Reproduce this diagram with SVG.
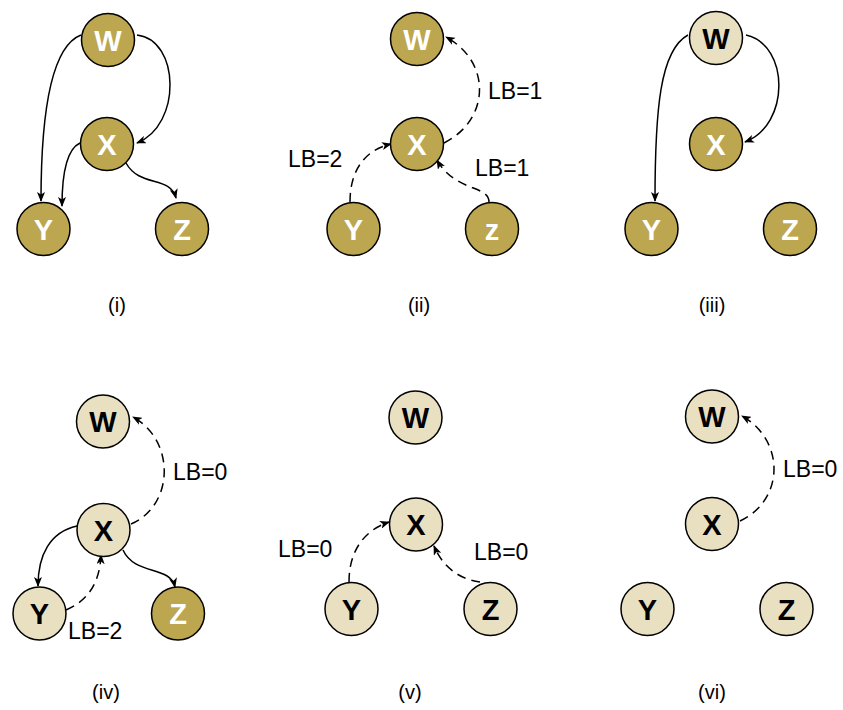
<svg xmlns="http://www.w3.org/2000/svg" width="843" height="710" viewBox="0 0 843 710">
<style>
.dk{fill:#BCA64F;stroke:#000;stroke-width:1.5}
.lt{fill:#E9E0C2;stroke:#000;stroke-width:1.5}
.tw{font-family:"Liberation Sans",Arial,sans-serif;font-weight:bold;font-size:29px;fill:#fff;text-anchor:middle}
.tb{font-family:"Liberation Sans",Arial,sans-serif;font-weight:bold;font-size:29px;fill:#000;text-anchor:middle}
.e{fill:none;stroke:#000;stroke-width:1.5;marker-end:url(#ah)}
.d{stroke-dasharray:9 6}
.lb{font-family:"Liberation Sans",Arial,sans-serif;font-size:23px;fill:#000}
.cap{font-family:"Liberation Sans",Arial,sans-serif;font-size:20px;fill:#000;text-anchor:middle}
</style>
<defs>
<marker id="ah" viewBox="0 0 10 8" refX="9" refY="4" markerWidth="10" markerHeight="8" markerUnits="userSpaceOnUse" orient="auto">
<path d="M0,0 L10,4 L0,8 L2.5,4 z" fill="#000" stroke="none"/>
</marker>
</defs>
<rect width="843" height="710" fill="#fff"/>

<g id="connectors">
<!-- (i) -->
<path class="e" d="M81 35 C55 45 41 100 41 201"/>
<path class="e" d="M137 35 C180 40 182 125 137 143"/>
<path class="e" d="M80 143 C65 150 62 180 62 206"/>
<path class="e" d="M126 163 C140 188 170 175 176 198"/>
<!-- (ii) -->
<path class="e d" d="M444 143 C490 120 492 62 446 37"/>
<path class="e d" d="M350 202 C350 170 365 150 391 144"/>
<path class="e d" d="M489 202 C489 185 455 192 437 160"/>
<!-- (iii) -->
<path class="e" d="M688 35 C660 50 655 110 655 201"/>
<path class="e" d="M746 35 C790 45 790 125 745 142"/>
<!-- (iv) -->
<path class="e d" d="M131 524 C175 505 175 440 133 417"/>
<path class="e" d="M77 526 C50 532 38 555 38 586"/>
<path class="e d" d="M66 610 C90 600 100 580 101 555"/>
<path class="e" d="M123 550 C135 576 170 565 175 587"/>
<!-- (v) -->
<path class="e d" d="M349 582 C349 550 365 530 389 522"/>
<path class="e d" d="M480 582 C465 580 445 572 434 546"/>
<!-- (vi) -->
<path class="e d" d="M740 521 C785 500 785 440 742 416"/>
</g>

<g id="labels">
<text class="lb" x="488" y="99">LB=1</text>
<text class="lb" x="288" y="167">LB=2</text>
<text class="lb" x="475" y="176">LB=1</text>
<text class="lb" x="173" y="480">LB=0</text>
<text class="lb" x="68" y="639">LB=2</text>
<text class="lb" x="278" y="557">LB=0</text>
<text class="lb" x="474" y="560">LB=0</text>
<text class="lb" x="783" y="477">LB=0</text>
<text class="cap" x="117" y="312">(i)</text>
<text class="cap" x="419" y="312">(ii)</text>
<text class="cap" x="712" y="312">(iii)</text>
<text class="cap" x="106" y="699">(iv)</text>
<text class="cap" x="410" y="699">(v)</text>
<text class="cap" x="712" y="699">(vi)</text>
</g>

<!-- panel i -->
<g id="i-W"><circle class="dk" cx="108" cy="40" r="26.5"/><text class="tw" x="108" y="50.5">W</text></g>
<g id="i-X"><circle class="dk" cx="107" cy="144" r="26.5"/><text class="tw" x="107" y="154.5">X</text></g>
<g id="i-Y"><circle class="dk" cx="43.5" cy="229" r="26.5"/><text class="tw" x="43.5" y="239.5">Y</text></g>
<g id="i-Z"><circle class="dk" cx="182" cy="229" r="26.5"/><text class="tw" x="182" y="239.5">Z</text></g>
<!-- panel ii -->
<g id="ii-W"><circle class="dk" cx="417" cy="39" r="26.5"/><text class="tw" x="417" y="49.5">W</text></g>
<g id="ii-X"><circle class="dk" cx="417" cy="144" r="26.5"/><text class="tw" x="417" y="154.5">X</text></g>
<g id="ii-Y"><circle class="dk" cx="353.5" cy="229" r="26.5"/><text class="tw" x="353.5" y="239.5">Y</text></g>
<g id="ii-Z"><circle class="dk" cx="492" cy="229" r="26.5"/><text class="tw" x="492" y="239.5">z</text></g>
<!-- panel iii -->
<g id="iii-W"><circle class="lt" cx="716" cy="38" r="26.5"/><text class="tb" x="716" y="48.5">W</text></g>
<g id="iii-X"><circle class="dk" cx="716" cy="144" r="26.5"/><text class="tw" x="716" y="154.5">X</text></g>
<g id="iii-Y"><circle class="dk" cx="651.5" cy="229" r="26.5"/><text class="tw" x="651.5" y="239.5">Y</text></g>
<g id="iii-Z"><circle class="dk" cx="790" cy="229" r="26.5"/><text class="tw" x="790" y="239.5">Z</text></g>
<!-- panel iv -->
<g id="iv-W"><circle class="lt" cx="103" cy="421.5" r="26.5"/><text class="tb" x="103" y="432">W</text></g>
<g id="iv-X"><circle class="lt" cx="103.5" cy="530" r="26.5"/><text class="tb" x="103.5" y="540.5">X</text></g>
<g id="iv-Y"><circle class="lt" cx="39.5" cy="613.5" r="26.5"/><text class="tb" x="39.5" y="624">Y</text></g>
<g id="iv-Z"><circle class="dk" cx="178" cy="613.5" r="26.5"/><text class="tw" x="178" y="624">Z</text></g>
<!-- panel v -->
<g id="v-W"><circle class="lt" cx="415.5" cy="417.5" r="26.5"/><text class="tb" x="415.5" y="428">W</text></g>
<g id="v-X"><circle class="lt" cx="416" cy="524.5" r="26.5"/><text class="tb" x="416" y="535">X</text></g>
<g id="v-Y"><circle class="lt" cx="351.5" cy="609" r="26.5"/><text class="tb" x="351.5" y="619.5">Y</text></g>
<g id="v-Z"><circle class="lt" cx="490.5" cy="609" r="26.5"/><text class="tb" x="490.5" y="619.5">Z</text></g>
<!-- panel vi -->
<g id="vi-W"><circle class="lt" cx="712" cy="416.5" r="26.5"/><text class="tb" x="712" y="427">W</text></g>
<g id="vi-X"><circle class="lt" cx="712" cy="524" r="26.5"/><text class="tb" x="712" y="534.5">X</text></g>
<g id="vi-Y"><circle class="lt" cx="647.5" cy="609" r="26.5"/><text class="tb" x="647.5" y="619.5">Y</text></g>
<g id="vi-Z"><circle class="lt" cx="786.5" cy="609" r="26.5"/><text class="tb" x="786.5" y="619.5">Z</text></g>
</svg>
